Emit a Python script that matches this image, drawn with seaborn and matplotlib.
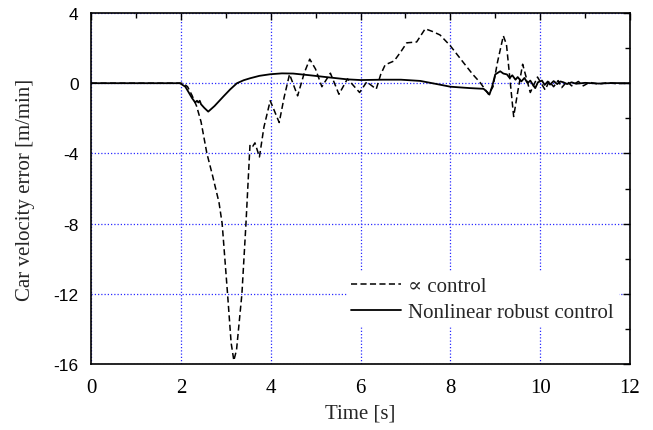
import matplotlib
matplotlib.use("Agg")
import matplotlib.pyplot as plt
from matplotlib.ticker import MultipleLocator
import seaborn as sns
import pandas as pd

# ---- data ----
t_prop = [0, 2.05, 2.15, 2.25, 2.35, 2.45, 2.58, 2.7, 2.85, 2.92, 3.04, 3.12, 3.18, 3.24,
          3.36, 3.45, 3.5, 3.54, 3.6, 3.65, 3.75, 3.85, 3.99, 4.19, 4.3, 4.42, 4.6, 4.75,
          4.87, 5.0, 5.14, 5.33, 5.52, 5.71, 5.98, 6.14, 6.35, 6.45, 6.55, 6.75, 6.9, 7.03,
          7.25, 7.44, 7.6, 7.77, 8.0, 8.29, 8.5, 8.66, 8.85, 8.95, 9.05, 9.18, 9.25, 9.41,
          9.5, 9.61, 9.78, 9.94, 10.11, 10.2, 10.3, 10.4, 10.48, 10.6, 10.7, 10.85, 10.96,
          11.1, 11.3, 11.5, 11.7, 12.0]
v_prop = [0, 0, -0.2, -0.7, -1.3, -2.2, -4.0, -5.2, -6.8, -8.0, -12.0, -14.8, -15.8, -15.2,
          -12.0, -8.0, -5.5, -3.5, -3.6, -3.4, -4.2, -2.5, -1.0, -2.24, -0.8, 0.51, -0.72, 0.6,
          1.37, 0.8, -0.2, 0.57, -0.63, 0.25, -0.53, 0.08, -0.34, 0.5, 1.05, 1.27, 1.8, 2.3,
          2.35, 3.1, 2.95, 2.75, 2.13, 1.18, 0.5, 0.05, -0.63, -0.2, 1.2, 2.7, 2.2, -1.9,
          -0.5, 1.08, -0.53, 0.35, -0.38, 0.1, -0.2, 0.15, -0.25, 0.1, -0.15, 0.1, -0.15,
          0.05, -0.05, 0.03, -0.03, 0.0]

t_nl = [0, 1.98, 2.1, 2.17, 2.25, 2.32, 2.36, 2.39, 2.42, 2.45, 2.52, 2.61, 2.75, 2.95,
        3.1, 3.25, 3.4, 3.54, 3.75, 3.99, 4.25, 4.5, 4.88, 5.3, 5.7, 6.0, 6.5, 6.9, 7.33,
        7.7, 8.0, 8.44, 8.74, 8.82, 8.87, 8.93, 9.0, 9.11, 9.18, 9.26, 9.32, 9.38, 9.45,
        9.5, 9.58, 9.65, 9.72, 9.78, 9.84, 9.89, 9.95, 10.04, 10.1, 10.17, 10.22, 10.3,
        10.38, 10.45, 10.52, 10.6, 10.7, 10.8, 11.0, 11.3, 11.6, 12.0]
v_nl = [0, 0, -0.2, -0.5, -0.85, -1.1, -1.0, -1.1, -1.0, -1.2, -1.4, -1.62, -1.3, -0.75,
        -0.35, 0.0, 0.17, 0.28, 0.42, 0.51, 0.56, 0.55, 0.45, 0.33, 0.22, 0.18, 0.2, 0.2, 0.13,
        -0.05, -0.2, -0.28, -0.32, -0.5, -0.65, -0.2, 0.5, 0.68, 0.55, 0.5, 0.3, 0.45, 0.2,
        0.35, 0.1, 0.3, 0.0, 0.15, -0.1, -0.28, 0.05, 0.15, -0.1, 0.1, -0.08, 0.12,
        -0.05, 0.1, 0.05, -0.05, 0.05, -0.03, 0.02, -0.02, 0.01, 0.0]

labels = ["\u221d control", "Nonlinear robust control"]
x_ticks = [0, 2, 4, 6, 8, 10, 12]
y_ticks = [-16, -12, -8, -4, 0, 4]

sns.set_theme(style="white")
plt.rcParams["axes.unicode_minus"] = False
serif = ["Liberation Serif", "DejaVu Serif"]
sans = ["Liberation Sans", "DejaVu Sans"]

fig = plt.figure(figsize=(6.53, 4.31), dpi=100)
ax = fig.add_axes([91 / 653, 1 - 365 / 431, 539 / 653, 351 / 431])

df_p = pd.DataFrame({"t": t_prop, "v": v_prop})
df_n = pd.DataFrame({"t": t_nl, "v": v_nl})
sns.lineplot(data=df_p, x="t", y="v", ax=ax, color="black", lw=1.1, sort=False,
             label=labels[0], dashes=False, zorder=3)
ax.lines[-1].set_dashes((4, 2.2))
sns.lineplot(data=df_n, x="t", y="v", ax=ax, color="black", lw=1.3, sort=False,
             label=labels[1], zorder=3)

ax.set_xlim(0, 12)
ax.set_ylim(-16, 4)
ax.set_xticks(x_ticks)
ax.set_yticks(y_ticks)
ax.xaxis.set_minor_locator(MultipleLocator(1))
ax.yaxis.set_minor_locator(MultipleLocator(2))
ax.tick_params(which="both", direction="in", top=True, right=True, colors="black")
ax.tick_params(which="major", length=5, width=1)
ax.tick_params(which="minor", length=3.5, width=1)
ax.tick_params(axis="x", pad=10)
ax.tick_params(axis="y", pad=9)
for lab in ax.get_xticklabels():
    lab.set_fontfamily(serif)
    lab.set_fontsize(15)
for lab in ax.get_yticklabels():
    lab.set_fontfamily(sans)
    lab.set_fontsize(12.5)

ax.grid(True, which="major", color="#2a2aff", linestyle=(0, (1, 1.6)), lw=0.9)
ax.set_axisbelow(True)
for s in ax.spines.values():
    s.set_color("black")
    s.set_linewidth(1.2)

ax.set_xlabel("Time [s]", fontfamily=serif, fontsize=15, labelpad=5)
ax.set_ylabel("Car velocity error [m/min]", fontfamily=serif, fontsize=15, labelpad=13)

leg = ax.legend(loc="lower right", bbox_to_anchor=(0.997, 0.078), frameon=True,
                prop={"family": serif, "size": 15}, handlelength=2.4, handletextpad=0.35,
                labelspacing=0.3, borderpad=0.2, fancybox=False)
leg.get_frame().set_facecolor("white")
leg.get_frame().set_edgecolor("white")
leg.get_frame().set_alpha(1)

fig.savefig("out.png", dpi=100)
